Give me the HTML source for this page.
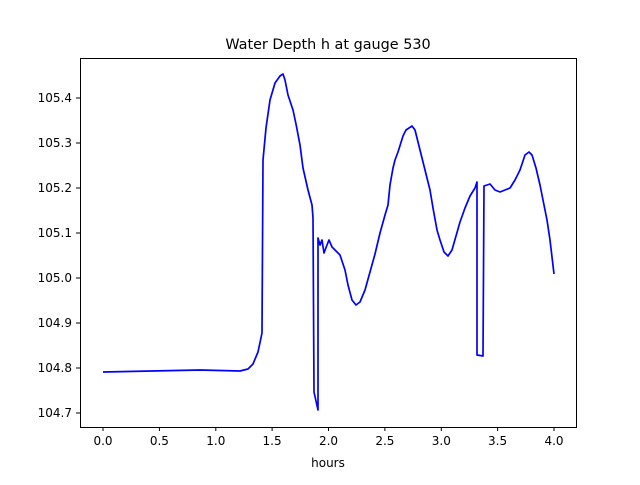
<!DOCTYPE html>
<html><head><style>body{margin:0;background:#fff}</style></head><body>
<svg width="640" height="480" xmlns="http://www.w3.org/2000/svg" font-family="DejaVu Sans, sans-serif">
<rect width="640" height="480" fill="#fff"/>
<polyline fill="none" stroke="#0000ff" stroke-width="1.7" stroke-linejoin="round" points="103,372 200,370 240,371 248,369 253,364 258,352 262,333 263,160 266,128 270,100 275,83 280,76 283,74 285,80 288,95 293,110 296,124 300,145 303,168 308,190 312,205 313,218 314,392 318,410 318,238 320,245 322,240 324,253 327,245 329,240 332,247 336,251 340,255 345,270 348,285 352,300 356,305 360,302 365,290 370,272 375,254 380,233 385,215 388,205 390,185 393,168 395,160 398,152 403,136 406,130 412,126 415,130 420,150 425,170 430,190 433,208 437,230 440,240 444,252 448,256 452,250 456,236 460,222 465,208 470,196 475,188 477,182 477,355 483,356 484,186 490,184 495,190 500,192 505,190 510,188 515,180 520,170 525,155 529,152 532,155 536,168 540,185 543,200 547,220 550,240 554,274"/>
<rect x="80.5" y="58.5" width="496" height="369" fill="none" stroke="#000" stroke-width="1"/>
<g stroke="#000" stroke-width="1">
<line x1="103" y1="427" x2="103" y2="431"/><line x1="159.4" y1="427" x2="159.4" y2="431"/><line x1="215.8" y1="427" x2="215.8" y2="431"/><line x1="272.1" y1="427" x2="272.1" y2="431"/><line x1="328.5" y1="427" x2="328.5" y2="431"/><line x1="384.9" y1="427" x2="384.9" y2="431"/><line x1="441.3" y1="427" x2="441.3" y2="431"/><line x1="497.6" y1="427" x2="497.6" y2="431"/><line x1="554" y1="427" x2="554" y2="431"/>
<line x1="76" y1="413" x2="80" y2="413"/><line x1="76" y1="368" x2="80" y2="368"/><line x1="76" y1="323" x2="80" y2="323"/><line x1="76" y1="278" x2="80" y2="278"/><line x1="76" y1="233" x2="80" y2="233"/><line x1="76" y1="188" x2="80" y2="188"/><line x1="76" y1="143" x2="80" y2="143"/><line x1="76" y1="98" x2="80" y2="98"/>
</g>
<g font-size="12" text-anchor="middle">
<text x="103" y="445">0.0</text><text x="159.4" y="445">0.5</text><text x="215.8" y="445">1.0</text><text x="272.1" y="445">1.5</text><text x="328.5" y="445">2.0</text><text x="384.9" y="445">2.5</text><text x="441.3" y="445">3.0</text><text x="497.6" y="445">3.5</text><text x="554" y="445">4.0</text>
<text x="328" y="467">hours</text>
</g>
<g font-size="12" text-anchor="end">
<text x="72" y="417">104.7</text><text x="72" y="372">104.8</text><text x="72" y="327">104.9</text><text x="72" y="282">105.0</text><text x="72" y="237">105.1</text><text x="72" y="192">105.2</text><text x="72" y="147">105.3</text><text x="72" y="102">105.4</text>
</g>
<text x="328" y="49" font-size="14.4" text-anchor="middle">Water Depth h at gauge 530</text>
</svg>
</body></html>
